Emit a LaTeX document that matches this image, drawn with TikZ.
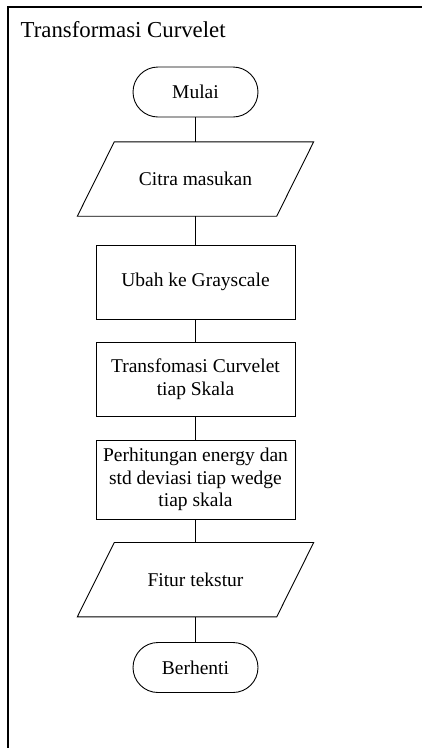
\documentclass[tikz,border=0pt]{standalone}
\usepackage{fontspec}
\setmainfont{Liberation Serif}
\begin{document}
\begin{tikzpicture}[x=1pt,y=1pt,
  every node/.style={font=\fontsize{19.5}{22.5}\selectfont},
  term/.style={draw, line width=0.9pt, rectangle, rounded corners=25pt, minimum width=125pt, minimum height=50pt, inner sep=0pt},
  procbox/.style={draw, line width=0.9pt, rectangle, minimum width=199pt, inner sep=0pt, align=center},
  iobox/.style={rectangle, minimum width=199pt, minimum height=74pt, inner sep=0pt, align=center},
  conn/.style={line width=0.9pt},
  frame/.style={line width=1.6pt}]
\useasboundingbox (0,0) rectangle (421,-748);
\draw[frame] (8,-760) -- (8,-7) -- (430,-7);
\node[anchor=base west, inner sep=0pt, font=\fontsize{22.8}{25}\selectfont] (title) at (20.5,-37.5) {Transformasi Curvelet};
\node[term] (mulai) at (195.5,-92) {Mulai};
\node[iobox] (citra) at (195.5,-179) {Citra masukan};
\node[procbox, minimum height=74pt] (ubah) at (195.5,-282) {Ubah ke Grayscale};
\node[procbox, minimum height=74.5pt] (trans) at (195.5,-379.3) {Transfomasi Curvelet\\tiap Skala};
\node[procbox, minimum height=79pt] (hitung) at (195.5,-479.5) {Perhitungan energy dan\\std deviasi tiap wedge\\tiap skala};
\node[iobox] (fitur) at (195.5,-579.7) {Fitur tekstur};
\node[term] (stop) at (195.5,-667.5) {Berhenti};
\foreach \n in {citra,fitur}{
  \draw[line width=0.9pt, line join=miter]
    ([xshift=18.5pt]\n.north west) -- ([xshift=18.5pt]\n.north east) --
    ([xshift=-18.5pt]\n.south east) -- ([xshift=-18.5pt]\n.south west) -- cycle;
}
\draw[conn] (mulai) -- (citra);
\draw[conn] (citra) -- (ubah);
\draw[conn] (ubah) -- (trans);
\draw[conn] (trans) -- (hitung);
\draw[conn] (hitung) -- (fitur);
\draw[conn] (fitur) -- (stop);
\end{tikzpicture}
\end{document}
